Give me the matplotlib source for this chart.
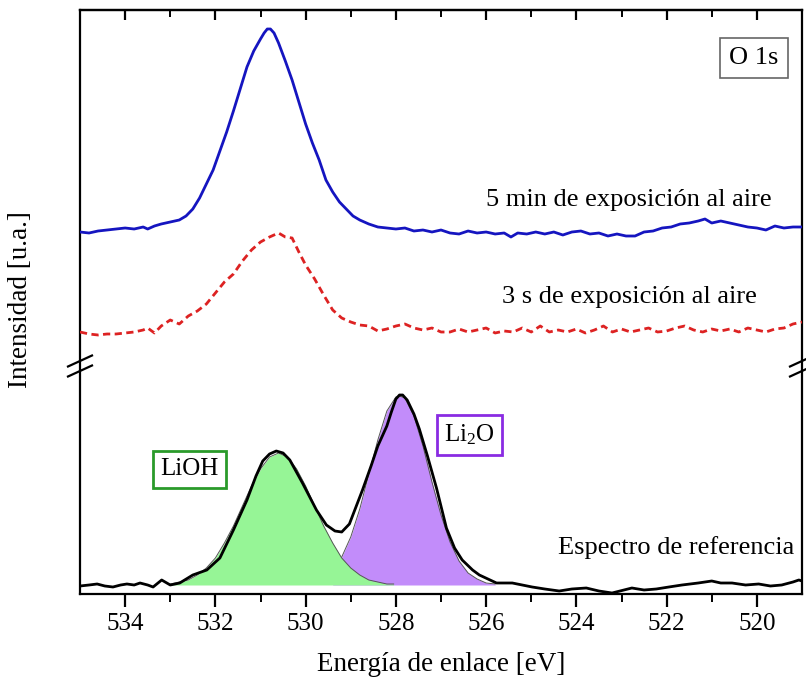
import matplotlib
matplotlib.use("Agg")
import matplotlib.pyplot as plt
import numpy as np

# ---------------- data (binding energy [eV], intensity [arb.]) ----------------
blue_E = [535.0, 534.8, 534.6, 534.4, 534.2, 534.0, 533.8, 533.6, 533.5, 533.35, 533.2, 533.0,
          532.8, 532.65, 532.5, 532.35, 532.2, 532.05, 531.9, 531.75, 531.6, 531.45, 531.3,
          531.15, 531.0, 530.92, 530.85, 530.78, 530.7, 530.6, 530.45, 530.3, 530.15, 530.0, 529.85,
          529.7, 529.55, 529.4, 529.25, 529.1, 528.95, 528.8, 528.6, 528.4, 528.2, 528.0,
          527.8, 527.6, 527.4, 527.2, 527.0, 526.8, 526.6, 526.4, 526.2, 526.0, 525.8, 525.6,
          525.45, 525.3, 525.1, 524.9, 524.7, 524.5, 524.3, 524.1, 523.9, 523.7, 523.5, 523.3,
          523.1, 522.9, 522.7, 522.5, 522.3, 522.1, 521.9, 521.7, 521.5, 521.3, 521.15, 521.0,
          520.8, 520.6, 520.4, 520.2, 520.0, 519.8, 519.6, 519.4, 519.2, 519.0]
blue_I = [362, 361, 363, 364, 365, 366, 365, 367, 365, 368, 370, 372,
          374, 378, 385, 396, 410, 424, 443, 462, 483, 505, 527,
          543, 555, 561, 565, 565, 561, 551, 533, 514, 492, 470, 451,
          434, 414, 402, 392, 385, 378, 374, 370, 367, 366, 365,
          366, 363, 364, 362, 364, 361, 360, 363, 361, 362, 360, 361,
          357, 361, 360, 362, 360, 362, 359, 362, 363, 360, 361, 358,
          360, 358, 358, 362, 363, 366, 367, 370, 371, 373, 375, 371,
          373, 371, 369, 367, 366, 364, 368, 366, 367, 367]

red_E = [535.0, 534.8, 534.6, 534.4, 534.2, 534.0, 533.8, 533.6, 533.5, 533.35, 533.2, 533.0,
         532.8, 532.6, 532.4, 532.2, 532.0, 531.8, 531.6, 531.4, 531.2, 531.0, 530.8, 530.6,
         530.45, 530.3, 530.15, 530.0, 529.8, 529.6, 529.4, 529.2, 529.0, 528.8, 528.6, 528.4,
         528.2, 528.0, 527.8, 527.6, 527.4, 527.2, 527.0, 526.8, 526.6, 526.4, 526.2, 526.0,
         525.8, 525.6, 525.4, 525.2, 525.0, 524.8, 524.6, 524.4, 524.2, 524.0, 523.8, 523.6,
         523.4, 523.2, 523.0, 522.8, 522.6, 522.4, 522.2, 522.0, 521.8, 521.6, 521.4, 521.2,
         521.0, 520.8, 520.6, 520.4, 520.2, 520.0, 519.8, 519.6, 519.4, 519.2, 519.0]
red_I = [262, 260, 259, 260, 260, 261, 262, 264, 266, 261, 268, 274,
         270, 278, 283, 290, 301, 312, 320, 333, 344, 352, 357, 361,
         357, 356, 342, 329, 315, 299, 284, 276, 272, 269, 268, 263,
         265, 268, 270, 266, 264, 266, 262, 262, 265, 262, 264, 266,
         261, 263, 262, 266, 262, 268, 262, 264, 262, 265, 261, 264,
         268, 262, 265, 262, 264, 266, 262, 263, 266, 268, 264, 262,
         265, 263, 265, 262, 266, 264, 262, 265, 266, 270, 272]

ref_E = [535.0, 534.8, 534.62, 534.45, 534.27, 534.1, 533.96, 533.8, 533.67, 533.5, 533.38,
         533.19, 533.0, 532.79, 532.5, 532.19, 531.9, 531.6, 531.3, 531.1, 530.95, 530.8,
         530.65, 530.5, 530.35, 530.07, 529.76, 529.54, 529.35, 529.2, 529.03, 528.74, 528.55,
         528.4, 528.3, 528.2, 528.1, 528.0, 527.92, 527.85, 527.75, 527.6, 527.48, 527.3, 527.1,
         526.88, 526.7, 526.53, 526.3, 526.15, 525.77, 525.42, 525.2, 524.98,
         524.7, 524.38, 524.1, 523.78, 523.5, 523.21, 522.77, 522.5, 522.23, 521.95, 521.66,
         521.3, 521.0, 520.8, 520.55, 520.25, 519.96, 519.7, 519.45, 519.2, 519.07, 519.0]
ref_I = [8, 9, 10, 8, 7, 9, 10, 9, 11, 9, 7,
         14, 9, 11, 19, 24, 36, 64, 94, 118, 133, 140,
         143, 141, 134, 111, 84, 69, 63, 62, 70, 104, 128,
         148, 158, 168, 182, 195, 199, 199, 194, 180, 165, 138, 106,
         66, 46, 34, 24, 19, 11, 11, 9, 7,
         5, 3, 5, 6, 3, 1, 6, 4, 5, 7, 9,
         11, 13, 11, 11, 9, 10, 8, 9, 12, 14, 13]

lioh_E = [533.0, 532.8, 532.6, 532.4, 532.2, 532.0, 531.8, 531.6, 531.4, 531.2, 531.0, 530.8,
          530.6, 530.4, 530.2, 530.0, 529.8, 529.6, 529.4, 529.2, 529.0, 528.8, 528.6, 528.4,
          528.2, 528.05]
lioh_I = [10, 12, 14, 19, 26, 36, 51, 68, 88, 108, 125, 137,
          141, 137, 125, 108, 88, 68, 51, 36, 26, 19, 14, 12,
          10, 10]

li2o_E = [529.4, 529.2, 529.0, 528.8, 528.6, 528.4, 528.2, 528.0, 527.92, 527.8, 527.6, 527.4,
          527.2, 527.0, 526.8, 526.6, 526.4, 526.2, 526.0, 525.8]
li2o_I = [23, 37, 57, 85, 120, 154, 183, 197, 198, 196, 178, 148,
          112, 79, 52, 33, 21, 15, 11, 10]
fill_base = 9

x_ticks = [534, 532, 530, 528, 526, 524, 522, 520]

# ---------------- figure ----------------
plt.rcParams['font.family'] = ['Liberation Serif', 'DejaVu Serif']
plt.rcParams['mathtext.default'] = 'regular'
W, H = 806, 684
fig = plt.figure(figsize=(W / 100, H / 100), dpi=100)
L, R, T, B = 80, 802, 10, 594
ax = fig.add_axes([L / W, 1 - B / H, (R - L) / W, (B - T) / H])
ax.set_xlim(535, 519)
ax.set_ylim(0, B - T)

# fitted components
ax.fill_between(li2o_E, fill_base, li2o_I, color='#c28cfa', lw=0, zorder=1)
ax.plot(li2o_E, li2o_I, color='#555555', lw=0.7, zorder=1.2)
ax.fill_between(lioh_E, fill_base, lioh_I, color='#96f596', lw=0, zorder=1.5)
ax.plot(lioh_E, lioh_I, color='#555555', lw=0.7, zorder=1.6)

# spectra
ax.plot(ref_E, ref_I, color='black', lw=2.0, zorder=3, solid_joinstyle='round')
ax.plot(red_E, red_I, color='#dd2222', lw=2.0, dashes=(2.6, 1.6), zorder=3)
ax.plot(blue_E, blue_I, color='#1515c0', lw=2.0, zorder=3, solid_joinstyle='round')

# axes styling
for s in ax.spines.values():
    s.set_linewidth(1.6)
ax.set_yticks([])
ax.set_xticks(x_ticks)
ax.set_xticks(np.array(x_ticks[:-1]) - 1, minor=True)
ax.tick_params(axis='x', which='major', direction='out', length=9, width=1.6,
               labelsize=18, pad=5)
ax.tick_params(axis='x', which='minor', direction='out', length=6, width=1.4)

sec = ax.secondary_xaxis('top')
sec.set_xticks(x_ticks)
sec.set_xticks(np.array(x_ticks[:-1]) - 1, minor=True)
sec.tick_params(axis='x', which='major', direction='in', length=7.5, width=1.6, labeltop=False)
sec.tick_params(axis='x', which='minor', direction='in', length=5, width=1.4)
sec.spines['top'].set_linewidth(1.6)

ax.set_xlabel('Energía de enlace [eV]', fontsize=19.5, labelpad=12)
ax.set_ylabel('Intensidad [u.a.]', fontsize=19.5)
ax.yaxis.set_label_coords((33 - L) / (R - L), (B - 300) / (B - T))

# axis-break marks on both vertical spines
ybrk = B - 366
for xa in (0, 1):
    for dy in (-5, 5):
        ax.plot([xa - 12 / (R - L), xa + 12 / (R - L)], [ybrk + dy - 5.5, ybrk + dy + 5.5],
                transform=ax.get_yaxis_transform(), color='black', lw=1.6,
                clip_on=False, zorder=5)

# labels
ax.text(520.07, 536, 'O 1s', fontsize=19, ha='center', va='center',
        bbox=dict(boxstyle='square,pad=0.35', fc='white', ec='#666666', lw=1.2), zorder=6)
ax.text(519.67, 394, '5 min de exposición al aire', fontsize=19, ha='right', va='center')
ax.text(520.0, 297, '3 s de exposición al aire', fontsize=19, ha='right', va='center')
ax.text(519.18, 46, 'Espectro de referencia', fontsize=19, ha='right', va='center')
ax.text(532.57, 125, 'LiOH', fontsize=18, ha='center', va='center',
        bbox=dict(boxstyle='square,pad=0.3', fc='white', ec='#2a9a2a', lw=2), zorder=6)
ax.text(526.37, 159, 'Li$_2$O', fontsize=18, ha='center', va='center',
        bbox=dict(boxstyle='square,pad=0.3', fc='white', ec='#8a2be2', lw=2), zorder=6)

fig.savefig('out.png', dpi=100)
